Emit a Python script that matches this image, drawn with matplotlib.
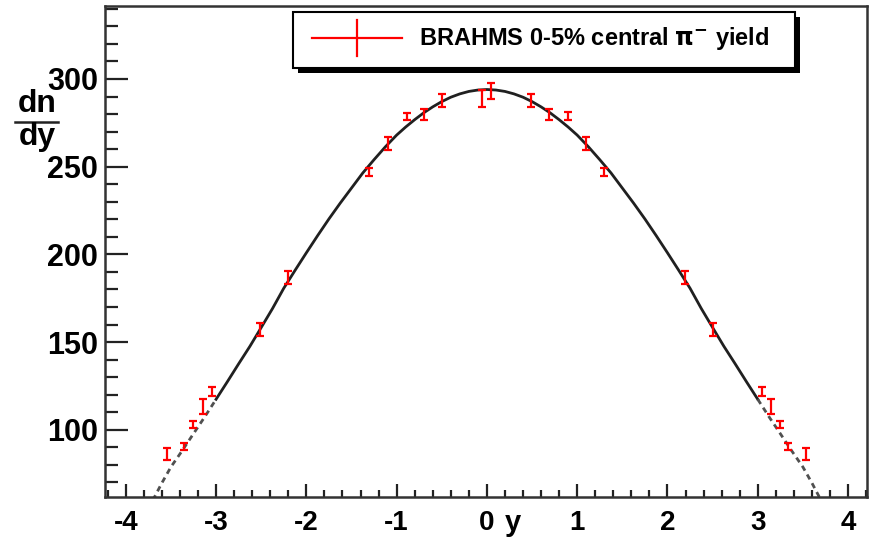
import matplotlib
matplotlib.use("Agg")
import matplotlib.pyplot as plt
from matplotlib.lines import Line2D
from matplotlib.patches import Rectangle
from matplotlib.ticker import MultipleLocator

plt.rcParams['font.family'] = ['Liberation Sans', 'DejaVu Sans']
plt.rcParams['font.weight'] = 'bold'
plt.rcParams['mathtext.fontset'] = 'dejavusans'
plt.rcParams['axes.unicode_minus'] = False

# BRAHMS 0-5% central pi- yield (measured + reflected)
rap = [-3.54, -3.36, -3.25, -3.15, -3.05, -2.51, -2.20, -1.305, -1.094, -0.89, -0.695, -0.50, -0.05,
       0.05, 0.49, 0.69, 0.90, 1.10, 1.30, 2.19, 2.50, 3.05, 3.15, 3.25, 3.34, 3.53]
dndy = [86.2, 90.6, 102.9, 113.2, 122.0, 157.1, 186.9, 246.9, 263.3, 278.7, 279.8, 287.6, 288.8,
        293.2, 287.6, 279.8, 278.9, 263.3, 246.9, 186.9, 157.1, 122.0, 113.3, 102.9, 90.4, 86.0]
err = [3.4, 2.0, 2.0, 4.2, 2.6, 3.6, 3.8, 2.2, 3.8, 2.1, 3.1, 3.7, 4.9,
       4.7, 3.7, 3.1, 2.1, 3.8, 2.2, 3.8, 3.6, 2.6, 4.2, 2.0, 2.0, 3.4]

# fit curve (one half, the curve is symmetric)
half_x = [0.0, 0.1, 0.2, 0.3, 0.4, 0.5, 0.6, 0.7, 0.8, 0.9, 1.0, 1.125, 1.25, 1.375, 1.5,
          1.625, 1.75, 1.875, 2.0, 2.125, 2.25, 2.375, 2.5, 2.625, 2.75, 2.875, 3.0,
          3.125, 3.25, 3.375, 3.5, 3.6, 3.7]
half_y = [294.0, 293.7, 292.9, 291.5, 289.6, 287.1, 284.1, 280.7, 276.8, 272.6, 268.0, 261.3,
          254.0, 246.4, 237.8, 229.2, 220.2, 210.7, 200.9, 190.9, 180.7, 169.1, 158.3, 147.6,
          137.6, 127.4, 117.4, 107.4, 97.8, 88.1, 78.8, 69.7, 59.9]
curve_x = [-x for x in half_x[:0:-1]] + half_x
curve_y = half_y[:0:-1] + half_y

legend_label = r"BRAHMS 0-5% central $\mathrm{\pi}^{\mathrm{-}}$ yield"

fig = plt.figure(figsize=(8.7, 5.41), dpi=100)
ax = fig.add_axes([105/870, 44/541, 762/870, 491/541])

# curve: solid in fit range, dashed outside
solid = [(x, y) for x, y in zip(curve_x, curve_y) if -3.0 <= x <= 3.0]
left = [(x, y) for x, y in zip(curve_x, curve_y) if x <= -3.0]
right = [(x, y) for x, y in zip(curve_x, curve_y) if x >= 3.0]
ax.plot([p[0] for p in solid], [p[1] for p in solid], color='#202020', lw=2.0, zorder=2)
for seg in (left, right):
    ax.plot([p[0] for p in seg], [p[1] for p in seg], color='#505050', lw=2.0,
            dashes=(2.0, 1.6), zorder=2)

ax.errorbar(rap, dndy, yerr=err, fmt='none', ecolor='#ff0000', elinewidth=1.6,
            capsize=3.2, capthick=1.6, zorder=3)

ax.set_xlim(-4.23, 4.21)
ax.set_ylim(61.7, 341.6)
ax.xaxis.set_major_locator(MultipleLocator(1))
ax.xaxis.set_minor_locator(MultipleLocator(0.2))
ax.yaxis.set_major_locator(MultipleLocator(50))
ax.yaxis.set_minor_locator(MultipleLocator(10))
ax.tick_params(axis='x', which='major', direction='in', length=9.5, width=1.6, pad=9,
               labelsize=20, colors='#222222', labelcolor='black')
ax.tick_params(axis='x', which='minor', direction='in', length=5, width=1.6, colors='#222222')
ax.tick_params(axis='y', which='major', direction='in', length=16.5, width=1.6, pad=5,
               labelsize=22, colors='#222222', labelcolor='black')
ax.tick_params(axis='y', which='minor', direction='in', length=9.5, width=1.6, colors='#222222')
for s in ax.spines.values():
    s.set_linewidth(1.8)
    s.set_color('#333333')

# axis titles
fig.text(513/870, 1 - 531/541, 'y', ha='center', va='baseline', fontsize=21, fontweight='bold')
fig.text(37/870, 1 - 111.7/541, 'dn', ha='center', va='baseline', fontsize=23, fontweight='bold')
fig.text(37/870, 1 - 145/541, 'dy', ha='center', va='baseline', fontsize=23, fontweight='bold')
fig.add_artist(Line2D([15/870, 58/870], [1 - 121.7/541] * 2, color='#222222', lw=1.8))

# legend box with shadow
x0, x1 = (293 - 105) / 762, (795 - 105) / 762
y0, y1 = (497 - 68) / 491, (497 - 12) / 491
dx, dy = 5 / 762, 5 / 491
ax.add_patch(Rectangle((x0 + dx, y0 - dy), x1 - x0, y1 - y0, transform=ax.transAxes,
                       facecolor='black', edgecolor='black', lw=0, zorder=5, clip_on=False))
ax.add_patch(Rectangle((x0, y0), x1 - x0, y1 - y0, transform=ax.transAxes,
                       facecolor='white', edgecolor='black', lw=1.5, zorder=6, clip_on=False))
ym = (497 - 38) / 491
ax.add_line(Line2D([(312 - 105) / 762, (402 - 105) / 762], [ym, ym], transform=ax.transAxes,
                   color='#ff0000', lw=1.6, zorder=7))
ax.add_line(Line2D([(357 - 105) / 762] * 2, [(497 - 56) / 491, (497 - 20) / 491],
                   transform=ax.transAxes, color='#ff0000', lw=1.6, zorder=7))
ax.text((419 - 105) / 762, ym, legend_label, transform=ax.transAxes, ha='left', va='center',
        fontsize=17, fontweight='bold', zorder=8)

fig.savefig('out.png', dpi=100)
